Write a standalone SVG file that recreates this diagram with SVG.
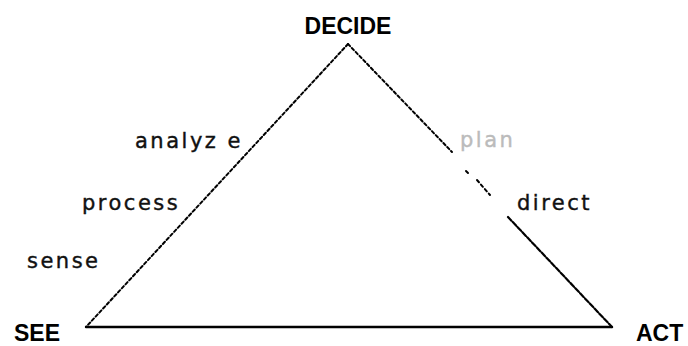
<svg xmlns="http://www.w3.org/2000/svg" width="688" height="346" viewBox="0 0 688 346">
<style>
.lbl{font-family:"DejaVu Sans",Verdana,sans-serif;font-size:21px;letter-spacing:2.5px;fill:#111;stroke:#111;stroke-width:0.4}
.ttl{font-family:"Liberation Sans",Arial,sans-serif;font-size:23px;font-weight:bold;fill:#000}
.e{stroke:#000;fill:none;stroke-linecap:round}
</style>
<rect width="688" height="346" fill="#fff"/>
<g id="connectors">
<line class="e" x1="348" y1="44" x2="86" y2="327" stroke-width="2" stroke-dasharray="3 2.5"/>
<line class="e" x1="348" y1="44" x2="452" y2="152" stroke-width="2" stroke-dasharray="3 2.5"/>
<line class="e" x1="466" y1="171" x2="468" y2="173" stroke-width="2"/>
<line class="e" x1="477" y1="180" x2="490" y2="195" stroke-width="2" stroke-dasharray="3 3"/>
<line class="e" x1="508" y1="217" x2="612" y2="327" stroke-width="2.2" stroke-dasharray="5 2"/>
<line class="e" x1="86" y1="327" x2="612" y2="327" stroke-width="2.4"/>
</g>
<g id="DECIDE"><text class="ttl" x="348" y="34" text-anchor="middle">DECIDE</text></g>
<g id="SEE"><text class="ttl" x="14" y="341">SEE</text></g>
<g id="ACT"><text class="ttl" x="636" y="341">ACT</text></g>
<g id="analyze"><text class="lbl" x="135" y="148">analyz e</text></g>
<g id="process"><text class="lbl" x="82" y="210">process</text></g>
<g id="sense"><text class="lbl" x="27" y="268">sense</text></g>
<g id="plan"><text class="lbl" x="460" y="147" style="fill:#bbb;stroke:#bbb">plan</text></g>
<g id="direct"><text class="lbl" x="517" y="210">direct</text></g>
</svg>
